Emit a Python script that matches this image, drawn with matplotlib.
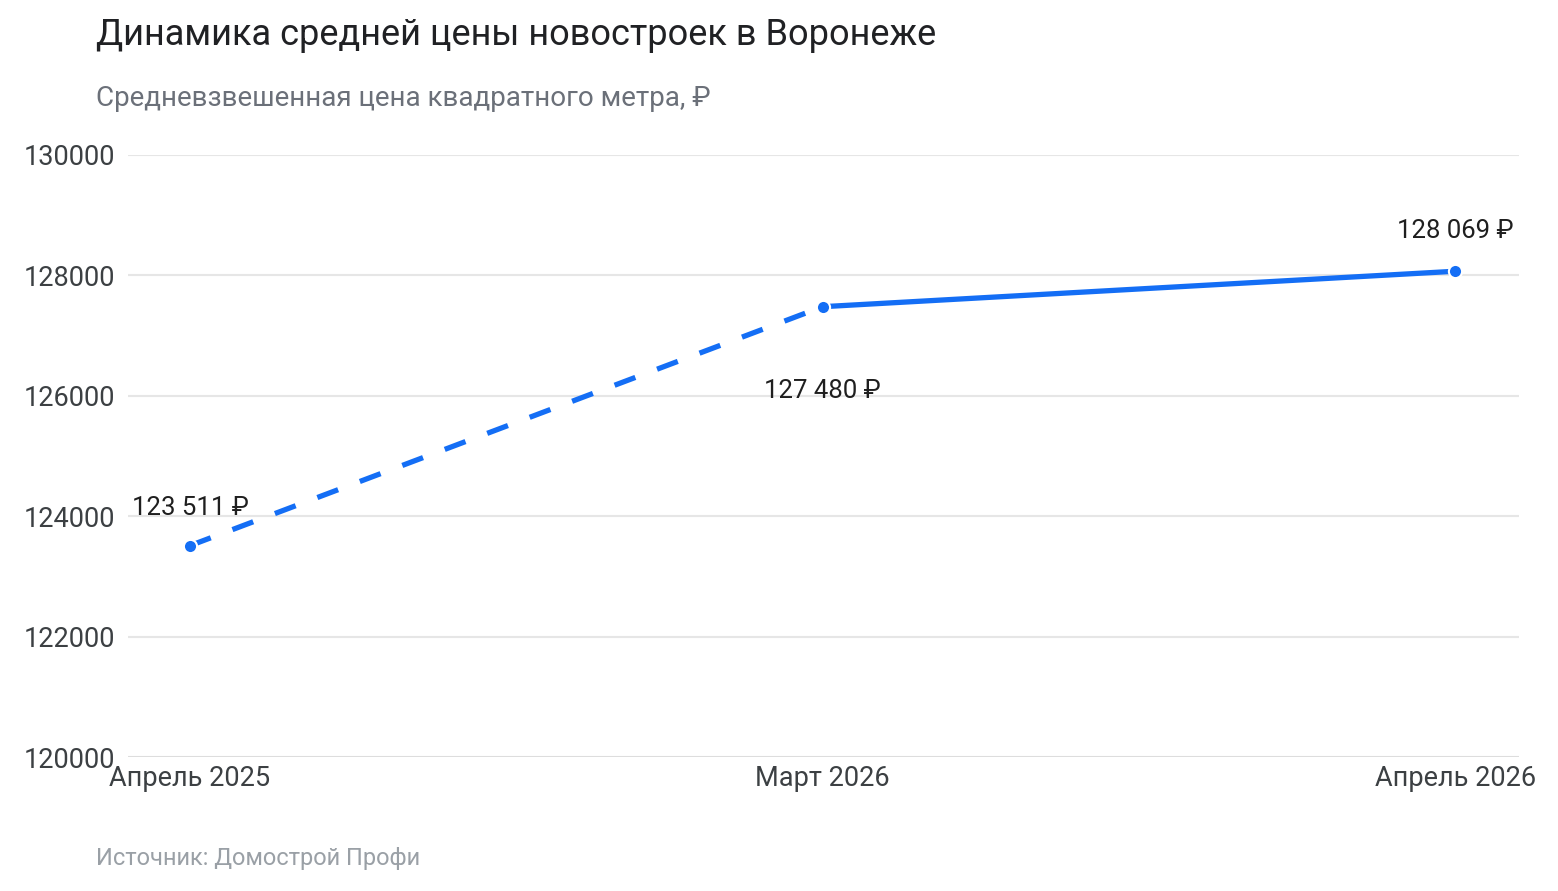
import matplotlib
matplotlib.use("Agg")
import matplotlib.pyplot as plt

plt.rcParams['font.family'] = ['Roboto', 'DejaVu Sans']

categories = ["Апрель 2025", "Март 2026", "Апрель 2026"]
prices = [123511, 127480, 128069]
price_labels = ["123 511 ₽", "127 480 ₽", "128 069 ₽"]
yticks = [120000, 122000, 124000, 126000, 128000, 130000]

title = "Динамика средней цены новостроек в Воронеже"
subtitle = "Средневзвешенная цена квадратного метра, ₽"
source = "Источник: Домострой Профи"

blue = "#146ef5"

fig = plt.figure(figsize=(15.58, 8.91), dpi=100)
ax = fig.add_axes([128/1558, 1-757/891, (1519-128)/1558, (757-155)/891])

x = list(range(len(categories)))
ax.plot(x[:2], prices[:2], color=blue, lw=3.8, ls=(0, (4.2, 4.4)), solid_capstyle='butt', zorder=3)
ax.plot(x[1:], prices[1:], color=blue, lw=3.8, zorder=3)
ax.plot(x, prices, ls='none', marker='o', ms=9.5, mfc=blue, mec='white', mew=1.5, zorder=4)

offsets = [(0, 38), (0, -84), (0, 40)]
for xi, yi, lab, (dx, dy) in zip(x, prices, price_labels, offsets):
    ax.annotate(lab, (xi, yi), xytext=(dx, dy), textcoords='offset pixels',
                ha='center', va='center', fontsize=18.5, color='#1f1f1f')

ax.set_xlim(-0.098, 2.101)
ax.set_ylim(120000, 130000)
ax.set_yticks(yticks)
ax.set_yticklabels([str(v) for v in yticks])
ax.set_xticks(x)
ax.set_xticklabels(categories)
ax.tick_params(axis='both', length=0, labelsize=19.5, labelcolor='#3c4043')
ax.tick_params(axis='y', pad=9)
ax.tick_params(axis='x', pad=6)
ax.grid(axis='y', color='#e6e6e6', lw=1.5)
ax.set_axisbelow(True)
for s in ax.spines.values():
    s.set_visible(False)
ax.axhline(120000, color='#dcdcdc', lw=2, zorder=1)

fig.text(96/1558, 1-35/891, title, fontsize=26, color='#202124', ha='left', va='center')
fig.text(96/1558, 1-98/891, subtitle, fontsize=20, color='#6b7079', ha='left', va='center')
fig.text(96/1558, 1-858/891, source, fontsize=17, color='#9aa0a6', ha='left', va='center')

fig.savefig("out.png", dpi=100, facecolor='white')
